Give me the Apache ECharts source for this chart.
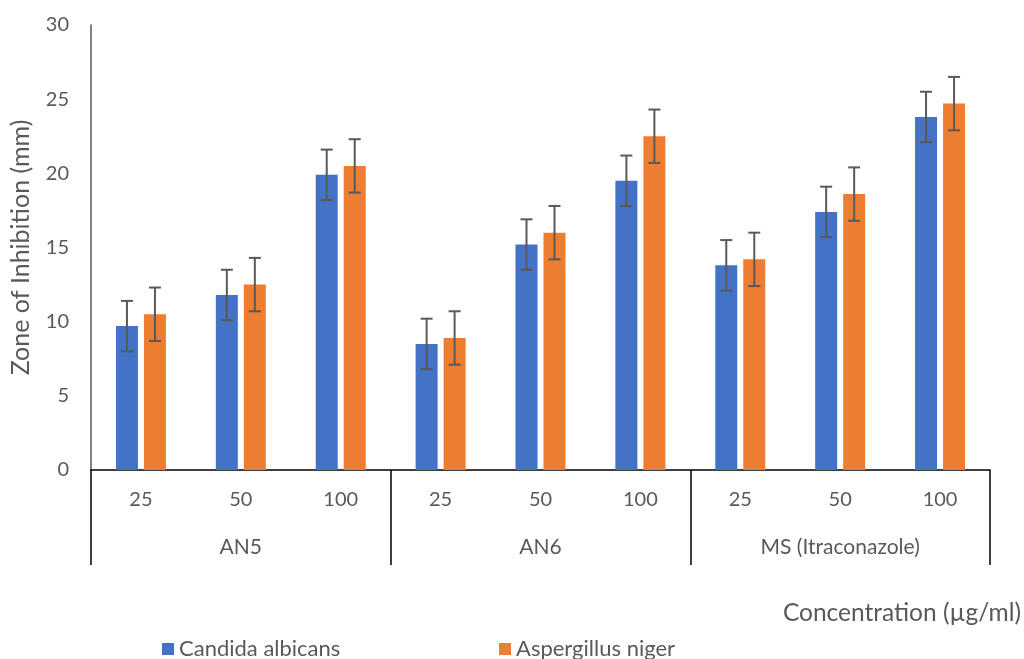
<!DOCTYPE html>
<html>
<head>
<meta charset="utf-8">
<script src="https://cdn.jsdelivr.net/npm/echarts@6/dist/echarts.min.js"></script>
<style>html,body{margin:0;padding:0;background:#fff}#c{width:1024px;height:659px}</style>
</head>
<body>
<div id="c"></div>
<script>
const categories = ['25', '50', '100', '25', '50', '100', '25', '50', '100'];
const groups = ['AN5', 'AN6', 'MS (Itraconazole)'];
const yTicks = [0, 5, 10, 15, 20, 25, 30];
const candida = [9.7, 11.8, 19.9, 8.5, 15.2, 19.5, 13.8, 17.4, 23.8];
const candidaErr = [1.7, 1.7, 1.7, 1.7, 1.7, 1.7, 1.7, 1.7, 1.7];
const aspergillus = [10.5, 12.5, 20.5, 8.9, 16.0, 22.5, 14.2, 18.6, 24.7];
const aspergillusErr = [1.8, 1.8, 1.8, 1.8, 1.8, 1.8, 1.8, 1.8, 1.8];

const FONT = 'Lato';
const TXT = '#595959';
const BAR_W = 22;
const GAP = 6;

function errRender(side) {
  return function (params, api) {
    const i = api.value(0), v = api.value(1), e = api.value(2);
    const hi = api.coord([i, v + e]);
    const lo = api.coord([i, v - e]);
    const x = hi[0] + side * (BAR_W + GAP) / 2;
    const cap = 6;
    const st = { stroke: '#595959', lineWidth: 2 };
    return {
      type: 'group',
      children: [
        { type: 'line', shape: { x1: x, y1: hi[1], x2: x, y2: lo[1] }, style: st },
        { type: 'line', shape: { x1: x - cap, y1: hi[1], x2: x + cap, y2: hi[1] }, style: st },
        { type: 'line', shape: { x1: x - cap, y1: lo[1], x2: x + cap, y2: lo[1] }, style: st }
      ]
    };
  };
}

const chart = echarts.init(document.getElementById('c'), null, { renderer: 'canvas' });
chart.setOption({
  animation: false,
  textStyle: { fontFamily: FONT },
  grid: { left: 91, right: 34, top: 25, bottom: 189 },
  title: {
    text: 'Concentration (µg/ml)', right: 3, top: 601, padding: 0,
    textStyle: { fontFamily: FONT, fontSize: 24.5, fontWeight: 'normal', color: TXT }
  },
  legend: [
    { data: ['Candida albicans'], left: 162, top: 638, padding: 0, icon: 'rect', itemWidth: 12, itemHeight: 12, itemGap: 6,
      textStyle: { fontFamily: FONT, fontSize: 22, color: TXT } },
    { data: ['Aspergillus niger'], left: 499, top: 638, padding: 0, icon: 'rect', itemWidth: 12, itemHeight: 12, itemGap: 6,
      textStyle: { fontFamily: FONT, fontSize: 22, color: TXT } }
  ],
  xAxis: [
    { type: 'category', data: categories, position: 'bottom',
      axisLine: { show: true, lineStyle: { color: '#000', width: 1.5 } },
      axisTick: { show: false },
      axisLabel: { interval: 0, margin: 20, fontSize: 20, color: TXT, fontFamily: FONT } },
    { type: 'category', data: groups, position: 'bottom',
      axisLine: { show: false },
      axisTick: { show: true, length: 95, interval: 0, lineStyle: { color: '#000', width: 1.5 } },
      axisLabel: { interval: 0, margin: 67, fontSize: 21, color: TXT, fontFamily: FONT } }
  ],
  yAxis: {
    type: 'value', min: yTicks[0], max: yTicks[yTicks.length - 1], interval: 5,
    name: 'Zone of Inhibition (mm)', nameLocation: 'middle', nameGap: 58, nameRotate: 90,
    nameTextStyle: { fontSize: 25, color: TXT, fontFamily: FONT },
    axisLine: { show: true, lineStyle: { color: '#595959', width: 1.5 } },
    axisTick: { show: false },
    splitLine: { show: false },
    axisLabel: { margin: 22, fontSize: 20, color: TXT, fontFamily: FONT }
  },
  series: [
    { name: 'Candida albicans', type: 'bar', data: candida, barWidth: BAR_W, barGap: (GAP / BAR_W * 100) + '%',
      itemStyle: { color: '#4472C4' } },
    { name: 'Aspergillus niger', type: 'bar', data: aspergillus, barWidth: BAR_W, barGap: (GAP / BAR_W * 100) + '%',
      itemStyle: { color: '#ED7D31' } },
    { type: 'custom', renderItem: errRender(-1), z: 10,
      data: candida.map((v, i) => [i, v, candidaErr[i]]) },
    { type: 'custom', renderItem: errRender(1), z: 10,
      data: aspergillus.map((v, i) => [i, v, aspergillusErr[i]]) }
  ]
});
</script>
</body>
</html>
